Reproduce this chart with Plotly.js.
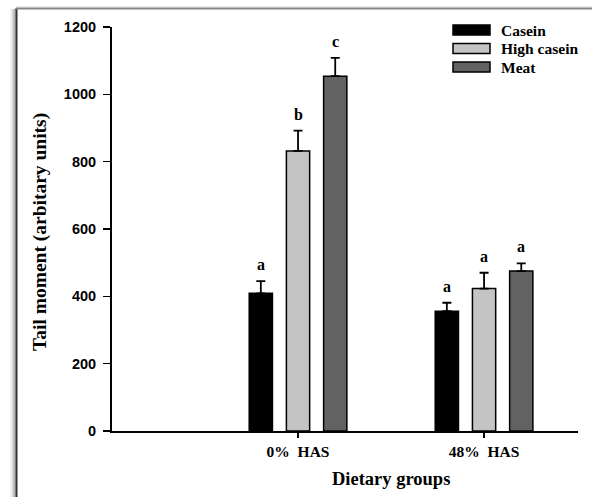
<!DOCTYPE html>
<html><head><meta charset="utf-8">
<script src="https://cdn.plot.ly/plotly-3.0.1.min.js"></script>
<style>html,body{margin:0;padding:0;background:#fff}</style>
</head><body><div id="chart" style="width:592px;height:497px"></div>
<script>
// ---- data ----
const groups = ['0%\u00a0\u00a0HAS', '48%\u00a0\u00a0HAS'];
const groupPos = [1, 2];
const series = ['Casein', 'High casein', 'Meat'];
const casein = [409, 356];
const highCasein = [832, 423];
const meat = [1054, 475];
const caseinErr = [36, 25];
const highCaseinErr = [60, 47];
const meatErr = [54, 23];
const caseinLetters = ['a', 'a'];
const highCaseinLetters = ['b', 'a'];
const meatLetters = ['c', 'a'];
const yTicks = [0, 200, 400, 600, 800, 1000, 1200];
const yTitle = 'Tail moment (arbitary units)';
const xTitle = 'Dietary groups';

// ---- styling ----
const colors = ['#000000', '#c4c4c4', '#626262'];
const serif = 'Liberation Serif, Times New Roman, serif';
const sans = 'Liberation Sans, Arial, sans-serif';
const W = 592, H = 497, L = 112, R = 14, T = 27, B = 66;
const PW = W - L - R, PH = H - T - B;
const px = v => (v - L) / PW;
const py = v => (H - B - v) / PH;

const values = [casein, highCasein, meat];
const errs = [caseinErr, highCaseinErr, meatErr];
const letters = [caseinLetters, highCaseinLetters, meatLetters];

const bargap = 0.4, bargroupgap = 0.375;
const slot = (1 - bargap) / series.length;

const traces = series.map((name, i) => ({
  type: 'bar',
  name: name,
  x: groupPos,
  y: values[i],
  marker: {color: colors[i], line: {color: '#000', width: 1.5}},
  error_y: {type: 'data', symmetric: false, array: errs[i], arrayminus: errs[i].map(() => 0),
            color: '#000', thickness: 1.8, width: 4.5},
  showlegend: false,
  hoverinfo: 'skip'
}));

const annotations = [];
series.forEach((name, i) => {
  groupPos.forEach((g, j) => {
    annotations.push({
      x: g + (i - (series.length - 1) / 2) * slot,
      y: values[i][j] + errs[i][j],
      xref: 'x', yref: 'y',
      text: letters[i][j], showarrow: false,
      yanchor: 'bottom', yshift: 6,
      font: {family: serif, size: 16, weight: 'bold', color: '#000'}
    });
  });
});

// axis titles
annotations.push({
  xref: 'paper', yref: 'paper', x: px(40), y: py(232), textangle: -90,
  text: yTitle, showarrow: false, xanchor: 'center', yanchor: 'middle',
  font: {family: serif, size: 19.5, weight: 'bold', color: '#000'}
});
annotations.push({
  xref: 'paper', yref: 'paper', x: px(391), y: py(479),
  text: xTitle, showarrow: false, xanchor: 'center', yanchor: 'middle',
  font: {family: serif, size: 18.5, weight: 'bold', color: '#000'}
});

// custom legend
const shapes = [];
const legTop = [25, 43.5, 62];
series.forEach((name, i) => {
  shapes.push({type: 'rect', xref: 'paper', yref: 'paper',
    x0: px(453), x1: px(490), y0: py(legTop[i]), y1: py(legTop[i] + 10),
    fillcolor: colors[i], line: {color: '#000', width: 1.5}});
  annotations.push({xref: 'paper', yref: 'paper', x: px(499), y: py(legTop[i] + 5),
    xanchor: 'left', yanchor: 'middle', text: name, showarrow: false,
    font: {family: serif, size: 15.5, weight: 'bold', color: '#000'}});
});

// frame with shadow
const shadeCols = ['#f2f2f2', '#e0e0e0', '#c8c8c8', '#aaaaaa'];
shadeCols.forEach((c, k) => {
  shapes.push({type: 'line', xref: 'paper', yref: 'paper', layer: 'below',
    x0: px(11 + k * 1.3), x1: px(11 + k * 1.3), y0: py(9), y1: py(510),
    line: {color: c, width: 1.5}});
});
shapes.push({type: 'line', xref: 'paper', yref: 'paper',
  x0: px(16.5), x1: px(16.5), y0: py(8), y1: py(510), line: {color: '#333', width: 2}});
shapes.push({type: 'line', xref: 'paper', yref: 'paper',
  x0: px(16), x1: px(600), y0: py(7), y1: py(7), line: {color: '#dddddd', width: 1}});
shapes.push({type: 'line', xref: 'paper', yref: 'paper',
  x0: px(16), x1: px(600), y0: py(8.5), y1: py(8.5), line: {color: '#888', width: 2}});

const layout = {
  width: W, height: H,
  margin: {l: L, r: R, t: T, b: B, pad: 0},
  paper_bgcolor: '#fff', plot_bgcolor: '#fff',
  barmode: 'group', bargap: bargap, bargroupgap: bargroupgap,
  showlegend: false,
  xaxis: {
    range: [0, 2.505], tickvals: groupPos, ticktext: groups,
    showgrid: false, zeroline: false, showline: true, linecolor: '#000', linewidth: 2,
    ticks: 'outside', ticklen: 5, tickwidth: 1.5, tickcolor: '#000',
    tickfont: {family: serif, size: 15.5, weight: 'bold', color: '#000'},
    fixedrange: true
  },
  yaxis: {
    range: [0, 1200], tickvals: yTicks,
    showgrid: false, zeroline: false, showline: true, linecolor: '#000', linewidth: 2,
    ticks: 'outside', ticklen: 7, tickwidth: 1.5, tickcolor: '#000',
    ticklabelstandoff: 4,
    tickfont: {family: sans, size: 14.5, weight: 'bold', color: '#000'},
    fixedrange: true
  },
  annotations: annotations,
  shapes: shapes
};

Plotly.newPlot('chart', traces, layout, {staticPlot: true, displayModeBar: false});
</script></body></html>
